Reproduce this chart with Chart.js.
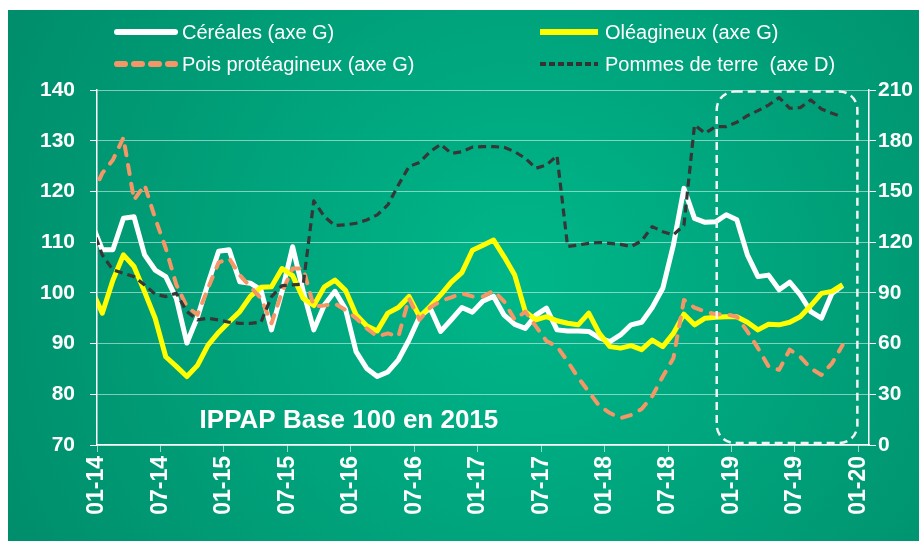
<!DOCTYPE html>
<html lang="fr">
<head>
<meta charset="utf-8">
<title>IPPAP Base 100 en 2015</title>
<script src="https://cdn.jsdelivr.net/npm/chart.js@4.4.1/dist/chart.umd.min.js"></script>
<style>
  html, body { margin: 0; padding: 0; background: #fff; }
  #wrap { position: relative; width: 919px; height: 541px; }
</style>
</head>
<body>
<div id="wrap"><canvas id="chart"></canvas></div>
<script>
// Monthly indices from 12-13 to 11-19 (first point is clipped by the axis)
const months = [
  '12-13',
  '01-14','02-14','03-14','04-14','05-14','06-14','07-14','08-14','09-14','10-14','11-14','12-14',
  '01-15','02-15','03-15','04-15','05-15','06-15','07-15','08-15','09-15','10-15','11-15','12-15',
  '01-16','02-16','03-16','04-16','05-16','06-16','07-16','08-16','09-16','10-16','11-16','12-16',
  '01-17','02-17','03-17','04-17','05-17','06-17','07-17','08-17','09-17','10-17','11-17','12-17',
  '01-18','02-18','03-18','04-18','05-18','06-18','07-18','08-18','09-18','10-18','11-18','12-18',
  '01-19','02-19','03-19','04-19','05-19','06-19','07-19','08-19','09-19','10-19','11-19'
];

// left axis (axe G)
const cereales = [
  113.7,
  108.5, 108.5, 114.7, 115.0, 107.5, 104.5, 103.2, 98.9, 90.1, 95.2, 101.9, 108.2,
  108.5, 102.2, 101.9, 100.6, 92.7, 100.3, 109.1, 100.3, 92.7, 97.6, 100.3, 96.8,
  88.4, 85.1, 83.5, 84.4, 86.8, 90.7, 95.3, 97.0, 92.4, 94.7, 97.1, 96.2,
  98.4, 99.3, 95.6, 93.8, 93.0, 95.6, 97.0, 92.7, 92.5, 92.5, 92.4, 91.1,
  90.4, 91.7, 93.7, 94.2, 97.1, 100.9, 109.4, 120.6, 114.7, 113.9, 114.0, 115.4,
  114.4, 107.5, 103.2, 103.5, 100.6, 102.1, 99.6, 96.3, 95.0, 99.9, 101.4
];
const oleagineux = [
  100.6,
  96.0, 102.5, 107.5, 105.2, 100.2, 95.0, 87.4, 85.5, 83.5, 85.7, 89.7, 92.2,
  94.3, 96.3, 99.3, 101.1, 101.2, 104.8, 103.4, 98.9, 97.5, 101.2, 102.5, 100.5,
  95.7, 93.5, 92.5, 96.0, 97.1, 99.3, 95.3, 97.3, 99.6, 102.1, 104.0, 108.4,
  109.4, 110.4, 107.1, 103.5, 96.3, 94.7, 95.3, 94.5, 94.0, 93.7, 96.0, 92.0,
  89.4, 89.1, 89.6, 88.8, 90.7, 89.4, 92.0, 95.8, 93.7, 95.0, 95.2, 95.3,
  95.3, 94.2, 92.7, 93.8, 93.7, 94.2, 95.3, 97.5, 99.9, 100.3, 101.6
];
const pois = [
  119.0,
  123.6, 126.2, 130.6, 118.3, 121.3, 114.7, 108.8, 101.6, 97.3, 95.7, 100.9, 106.0,
  106.8, 103.5, 101.2, 98.9, 94.0, 100.2, 104.8, 104.8, 97.3, 97.5, 97.9, 96.6,
  95.0, 93.0, 91.4, 92.0, 91.4, 98.9, 94.7, 97.1, 98.4, 99.1, 99.9, 99.3,
  99.3, 100.4, 98.3, 94.7, 96.3, 93.4, 90.5, 89.4, 86.5, 83.3, 80.5, 77.7,
  76.3, 75.3, 75.9, 77.1, 79.6, 83.5, 87.1, 98.6, 97.1, 96.3, 95.8, 95.8,
  95.3, 92.4, 89.1, 85.5, 84.8, 88.8, 87.4, 85.1, 83.8, 86.1, 89.7
];
// right axis (axe D)
const pommes = [
  130.0,
  112.4, 103.6, 101.6, 99.6, 94.7, 89.2, 87.8, 89.8, 78.9, 74.0, 75.0, 74.0,
  72.6, 72.0, 72.0, 72.6, 87.8, 94.3, 94.7, 95.1, 144.4, 135.1, 129.8, 130.2,
  131.2, 133.1, 136.1, 142.0, 153.8, 164.7, 167.2, 173.5, 177.9, 172.5, 173.5, 176.2,
  176.5, 176.5, 176.1, 173.5, 169.6, 163.7, 165.6, 171.2, 117.4, 118.3, 119.3, 119.8,
  119.3, 118.7, 117.4, 120.7, 129.2, 126.2, 124.3, 130.0, 189.3, 184.4, 188.3, 188.3,
  190.9, 194.8, 197.8, 201.1, 205.5, 199.2, 199.6, 204.1, 198.8, 196.2, 194.2
];

const xTickLabels = ['01-14','07-14','01-15','07-15','01-16','07-16','01-17','07-17','01-18','07-18','01-19','07-19','01-20'];
const xTickPos = [0, 6, 12, 18, 24, 30, 36, 42, 48, 54, 60, 66, 72];

const legendItems = [
  { text: 'Céréales (axe G)', color: '#ffffff', dash: [], width: 6, cap: 'round', x: 114, y: 32 },
  { text: 'Oléagineux (axe G)', color: '#ffff00', dash: [], width: 6, cap: 'butt', x: 537, y: 32 },
  { text: 'Pois protéagineux (axe G)', color: '#f59667', dash: [8, 9], width: 6, cap: 'round', x: 114, y: 64 },
  { text: 'Pommes de terre  (axe D)', color: '#333333', dash: [6, 3], width: 4, cap: 'butt', x: 537, y: 64 }
];

const FONT = "'Liberation Sans', Arial, sans-serif";

// turn a series into {x, y} points, centred on each month
function toPoints(arr) {
  return arr.map((v, i) => ({ x: i - 0.5, y: v }));
}

const bgPlugin = {
  id: 'bg',
  beforeDraw(chart) {
    const ctx = chart.ctx;
    ctx.save();
    ctx.fillStyle = '#ffffff';
    ctx.fillRect(0, 0, chart.width, chart.height);
    const g = ctx.createRadialGradient(520, 280, 0, 520, 280, 620);
    g.addColorStop(0, '#00b78a');
    g.addColorStop(1, '#008a69');
    ctx.fillStyle = g;
    ctx.fillRect(8, 10, chart.width - 8, chart.height - 10);
    ctx.restore();
  }
};

const legendPlugin = {
  id: 'customLegend',
  afterDraw(chart) {
    const ctx = chart.ctx;
    ctx.save();
    legendItems.forEach(it => {
      ctx.beginPath();
      ctx.strokeStyle = it.color;
      ctx.lineWidth = it.width;
      ctx.lineCap = it.cap;
      ctx.setLineDash(it.dash);
      ctx.moveTo(it.x + 3, it.y);
      ctx.lineTo(it.x + 61, it.y);
      ctx.stroke();
      ctx.setLineDash([]);
      ctx.fillStyle = '#ffffff';
      ctx.font = '20px ' + FONT;
      ctx.textBaseline = 'middle';
      ctx.textAlign = 'left';
      ctx.fillText(it.text, it.x + 68, it.y + 1);
    });
    ctx.restore();
  }
};

// dashed rounded frame around 2019 and the base note
const boxFrom = { x: 58.6, y: 139.7 };
const boxTo = { x: 71.9, y: 70.4 };
const notePos = { x: 9.7, y: 73.4 };

const notesPlugin = {
  id: 'notes',
  afterDatasetsDraw(chart) {
    const ctx = chart.ctx;
    const xs = chart.scales.x, ys = chart.scales.y;
    const x0 = xs.getPixelForValue(boxFrom.x), x1 = xs.getPixelForValue(boxTo.x);
    const y0 = ys.getPixelForValue(boxFrom.y), y1 = ys.getPixelForValue(boxTo.y);
    ctx.save();
    ctx.strokeStyle = '#f2f2f2';
    ctx.lineWidth = 2.5;
    ctx.setLineDash([8, 5]);
    ctx.beginPath();
    ctx.roundRect(x0, y0, x1 - x0, y1 - y0, 18);
    ctx.stroke();
    ctx.setLineDash([]);
    ctx.fillStyle = '#ffffff';
    ctx.font = 'bold 26px ' + FONT;
    ctx.textAlign = 'left';
    ctx.textBaseline = 'alphabetic';
    ctx.fillText('IPPAP Base 100 en 2015', xs.getPixelForValue(notePos.x), ys.getPixelForValue(notePos.y));
    ctx.restore();
  }
};

const ctx = document.getElementById('chart').getContext('2d');
const chart = new Chart(ctx, {
  type: 'line',
  data: {
    datasets: [{
      label: 'Céréales (axe G)',
      data: toPoints(cereales),
      borderColor: '#ffffff',
      borderWidth: 5,
      yAxisID: 'y',
      order: 4
    }, {
      label: 'Oléagineux (axe G)',
      data: toPoints(oleagineux),
      borderColor: '#ffff00',
      borderWidth: 5,
      yAxisID: 'y',
      order: 3
    }, {
      label: 'Pois protéagineux (axe G)',
      data: toPoints(pois),
      borderColor: '#f59667',
      borderWidth: 4,
      borderDash: [9, 10],
      borderCapStyle: 'round',
      yAxisID: 'y',
      order: 2
    }, {
      label: 'Pommes de terre  (axe D)',
      data: toPoints(pommes),
      borderColor: '#363636',
      borderWidth: 3.2,
      borderDash: [8, 5],
      yAxisID: 'y2',
      order: 1
    }]
  },
  options: {
    responsive: true,
    maintainAspectRatio: false,
    animation: false,
    layout: { padding: { top: 90, left: 0, right: 0, bottom: 0 } },
    elements: {
      point: { radius: 0, hoverRadius: 0 },
      line: { tension: 0, fill: false, borderJoinStyle: 'round' }
    },
    plugins: {
      legend: { display: false },
      tooltip: { enabled: false }
    },
    scales: {
      x: {
        type: 'linear',
        min: 0,
        max: 73,
        afterBuildTicks: s => { s.ticks = xTickPos.map(v => ({ value: v })); },
        afterFit: s => { s.height = 96; },
        grid: { drawOnChartArea: false, tickLength: 7, tickColor: 'rgba(255,255,255,0.6)' },
        border: { color: '#ffffff', width: 1.5 },
        ticks: {
          autoSkip: false,
          minRotation: 90,
          maxRotation: 90,
          padding: 4,
          color: '#ffffff',
          font: { family: FONT, size: 23, weight: 'bold' },
          callback: v => xTickLabels[xTickPos.indexOf(v)]
        }
      },
      y: {
        position: 'left',
        min: 70,
        max: 140,
        afterFit: s => { s.width = 97; },
        grid: { color: 'rgba(255,255,255,0.5)', lineWidth: 1, tickLength: 7, tickColor: '#ffffff' },
        border: { color: '#ffffff', width: 1.5 },
        ticks: {
          stepSize: 10,
          padding: 15,
          color: '#ffffff',
          font: { family: FONT, size: 21, weight: 'bold' }
        }
      },
      y2: {
        position: 'right',
        min: 0,
        max: 210,
        afterFit: s => { s.width = 50; },
        grid: { drawOnChartArea: false, tickLength: 7, tickColor: '#ffffff' },
        border: { color: '#ffffff', width: 1.5 },
        ticks: {
          stepSize: 30,
          padding: 2,
          color: '#ffffff',
          font: { family: FONT, size: 21, weight: 'bold' }
        }
      }
    }
  },
  plugins: [bgPlugin, notesPlugin, legendPlugin]
});
</script>
</body>
</html>
